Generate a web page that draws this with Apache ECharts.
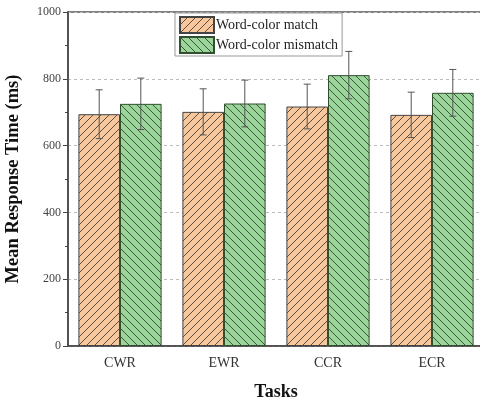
<!DOCTYPE html>
<html><head><meta charset="utf-8">
<script src="https://cdn.jsdelivr.net/npm/echarts@6/dist/echarts.min.js"></script>
<style>html,body{margin:0;padding:0;background:#fff}#c{width:480px;height:401px}</style>
</head><body><div id="c"></div>
<script>
const categories = ['CWR', 'EWR', 'CCR', 'ECR'];
const seriesNames = ['Word-color match', 'Word-color mismatch'];
const matchMean = [694, 701, 717, 692];
const matchSD = [73, 69, 67, 68];
const mismatchMean = [725, 726, 811, 758];
const mismatchSD = [77, 70, 71, 70];
const yTicks = [0, 200, 400, 600, 800, 1000];

function hatch(bg, dir) {
  const s = 8;
  const c = document.createElement('canvas');
  c.width = s; c.height = s;
  const g = c.getContext('2d');
  g.fillStyle = bg; g.fillRect(0, 0, s, s);
  g.strokeStyle = 'rgba(40,40,40,0.85)'; g.lineWidth = 0.9;
  g.beginPath();
  if (dir > 0) {
    g.moveTo(-1, s + 1); g.lineTo(s + 1, -1);
    g.moveTo(-1, 1); g.lineTo(1, -1);
    g.moveTo(s - 1, s + 1); g.lineTo(s + 1, s - 1);
  } else {
    g.moveTo(-1, -1); g.lineTo(s + 1, s + 1);
    g.moveTo(s - 1, -1); g.lineTo(s + 1, 1);
    g.moveTo(-1, s - 1); g.lineTo(1, s + 1);
  }
  g.stroke();
  return { image: c, repeat: 'repeat' };
}

const serif = 'Liberation Serif';
const chart = echarts.init(document.getElementById('c'));

function errData(mean, sd) {
  return mean.map((m, i) => [i, m - sd[i], m + sd[i]]);
}
function errSeries(mean, sd, side) {
  return {
    type: 'custom',
    data: errData(mean, sd),
    encode: { x: 0, y: [1, 2] },
    z: 10,
    silent: true,
    renderItem: function (params, api) {
      const i = api.value(0);
      const lo = api.coord([i, api.value(1)]);
      const hi = api.coord([i, api.value(2)]);
      const band = api.size([1, 0])[0];
      const bw = band * 0.8 / 2;
      const x = lo[0] + side * bw / 2;
      const cap = 3.5;
      const st = { stroke: '#555', lineWidth: 1 };
      return { type: 'group', children: [
        { type: 'line', shape: { x1: x, y1: lo[1], x2: x, y2: hi[1] }, style: st },
        { type: 'line', shape: { x1: x - cap, y1: hi[1], x2: x + cap, y2: hi[1] }, style: st },
        { type: 'line', shape: { x1: x - cap, y1: lo[1], x2: x + cap, y2: lo[1] }, style: st }
      ] };
    }
  };
}

chart.setOption({
  animation: false,
  textStyle: { fontFamily: serif },
  grid: { left: 68, right: -4, top: 12, bottom: 55, containLabel: false, outerBoundsMode: 'none',
    show: true, borderColor: '#555', borderWidth: 1.5 },
  legend: {
    data: seriesNames,
    orient: 'vertical',
    left: 175, top: 13,
    itemWidth: 34, itemHeight: 16, itemGap: 2,
    icon: 'rect',
    padding: [3, 4, 2, 4],
    borderColor: '#999', borderWidth: 1,
    backgroundColor: '#fff',
    textStyle: { fontFamily: serif, fontSize: 14, color: '#222', padding: [0, 0, 0, -3] }
  },
  xAxis: {
    type: 'category',
    data: categories,
    name: 'Tasks',
    nameLocation: 'middle',
    nameGap: 37,
    nameTextStyle: { fontFamily: serif, fontSize: 18, fontWeight: 'bold', color: '#111' },
    axisLine: { lineStyle: { color: '#444', width: 1.5 } },
    axisTick: { alignWithLabel: true, length: 5, lineStyle: { color: '#444' } },
    axisLabel: { fontFamily: serif, fontSize: 14, color: '#333', margin: 10 }
  },
  yAxis: {
    type: 'value',
    min: 0, max: 1000, interval: 200,
    name: 'Mean Response Time (ms)',
    nameLocation: 'middle',
    nameGap: 45,
    nameTextStyle: { fontFamily: serif, fontSize: 18.5, fontWeight: 'bold', color: '#111' },
    axisLine: { show: true, lineStyle: { color: '#444', width: 1.5 } },
    axisTick: { show: true, length: 5, lineStyle: { color: '#444' } },
    minorTick: { show: true, splitNumber: 2, length: 3, lineStyle: { color: '#444' } },
    axisLabel: { fontFamily: serif, fontSize: 12, color: '#444', margin: 7,
      formatter: v => yTicks.includes(v) ? String(v) : '' },
    splitLine: { show: true, lineStyle: { color: '#bbb', type: [3, 3], width: 1 } }
  },
  series: [
    {
      name: seriesNames[0], type: 'bar', data: matchMean,
      barGap: '0%', barCategoryGap: '20%',
      itemStyle: { color: hatch('#f8c89c', 1), borderColor: '#444', borderWidth: 1 }
    },
    {
      name: seriesNames[1], type: 'bar', data: mismatchMean,
      barGap: '0%', barCategoryGap: '20%',
      itemStyle: { color: hatch('#9ad69a', -1), borderColor: '#2f4f2f', borderWidth: 1 }
    },
    errSeries(matchMean, matchSD, -1),
    errSeries(mismatchMean, mismatchSD, 1)
  ]
});
</script></body></html>
